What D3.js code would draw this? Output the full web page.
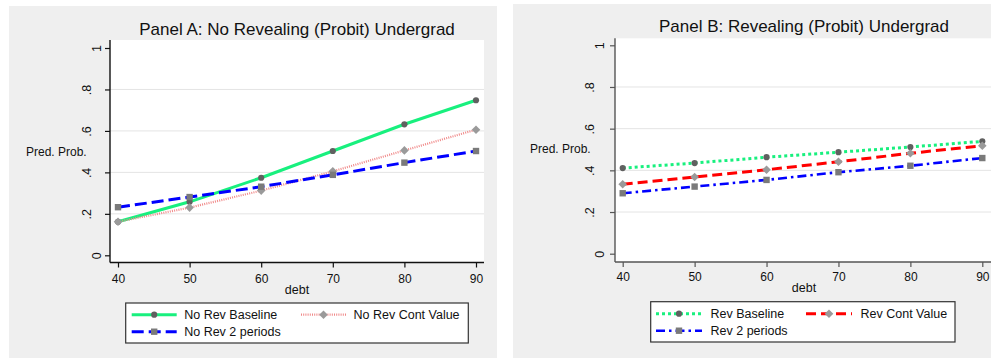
<!DOCTYPE html>
<html>
<head>
<meta charset="utf-8">
<script src="https://cdn.jsdelivr.net/npm/d3@7"></script>
<style>
  html, body { margin: 0; padding: 0; background: #ffffff; }
  svg { display: block; font-family: "Liberation Sans", Arial, sans-serif; }
</style>
</head>
<body>
<svg id="chart" width="991" height="358"></svg>
<script>
// Predicted probabilities by debt level
const debt = [40, 50, 60, 70, 80, 90];
const yTickValues = [0, 0.2, 0.4, 0.6, 0.8, 1];
const yTickLabels = ["0", ".2", ".4", ".6", ".8", "1"];
const yGridValues = [0.2, 0.4, 0.6, 0.8];

// Panel A: no revealing
const noRevBaseline   = [0.162, 0.258, 0.374, 0.503, 0.632, 0.748];
const noRevContValue  = [0.162, 0.230, 0.312, 0.405, 0.506, 0.606];
const noRevTwoPeriods = [0.232, 0.281, 0.331, 0.388, 0.447, 0.503];

// Panel B: revealing
const revBaseline   = [0.411, 0.435, 0.463, 0.487, 0.512, 0.539];
const revContValue  = [0.333, 0.368, 0.403, 0.441, 0.482, 0.518];
const revTwoPeriods = [0.290, 0.322, 0.354, 0.391, 0.422, 0.459];

const svg = d3.select("#chart");

const panels = [
  {
    title: "Panel A: No Revealing (Probit) Undergrad",
    bg: { x: 9, y: 6, w: 488, h: 352 },
    plot: { left: 110, right: 484, top: 40, bottom: 262.5 },
    xr: [118, 476], yr: [255.3, 48],
    axisColor: "#111",
    titleY: 35, xTickY: 282.5, xLabelY: 294, yLabel: { x: 26, y: 155.5 },
    yLabOff: [13, 23],
    legend: { x: 125.7, y: 303, w: 342.6, h: 40, row1: 314.7, row2: 331.7,
              col1: 131.7, col2: 301, sample: 45, gap: 7.5 },
    series: [
      { name: "No Rev Baseline", values: noRevBaseline, color: "#18f07e", width: 3, dash: null, marker: "circle", col: 0, row: 0 },
      { name: "No Rev Cont Value", values: noRevContValue, color: "#f08888", width: 2.2, dash: "1 1.2", marker: "diamond", col: 1, row: 0 },
      { name: "No Rev 2 periods", values: noRevTwoPeriods, color: "#0000ff", width: 3, dash: "12 5", marker: "square", col: 0, row: 1 }
    ]
  },
  {
    title: "Panel B: Revealing (Probit) Undergrad",
    bg: { x: 513, y: 4, w: 478, h: 354 },
    plot: { left: 615, right: 993, top: 38.3, bottom: 262 },
    xr: [622.7, 982.3], yr: [253.7, 45.3],
    axisColor: "#555",
    titleY: 32.3, xTickY: 281, xLabelY: 291.7, yLabel: { x: 530, y: 153 },
    yLabOff: [15, 25],
    legend: { x: 650.7, y: 301.7, w: 304.3, h: 40.3, row1: 313.7, row2: 330.7,
              col1: 656, col2: 806, sample: 46, gap: 8.5 },
    series: [
      { name: "Rev Baseline", values: revBaseline, color: "#18f07e", width: 3, dash: "3 3", marker: "circle", col: 0, row: 0 },
      { name: "Rev Cont Value", values: revContValue, color: "#ff0000", width: 3, dash: "10 5", marker: "diamond", col: 1, row: 0 },
      { name: "Rev 2 periods", values: revTwoPeriods, color: "#0000ff", width: 2.6, dash: "9 4 2.5 4", marker: "square", col: 0, row: 1 }
    ]
  }
];

const markerStyle = {
  circle:  { fill: "#606060", path: d3.symbol(d3.symbolCircle, 30)() },
  diamond: { fill: "#9a9a9a", path: "M0,-4.3L4.3,0L0,4.3L-4.3,0Z" },
  square:  { fill: "#7a7a7a", path: "M-3.2,-3.2H3.2V3.2H-3.2Z" }
};

panels.forEach(p => {
  const g = svg.append("g");

  // panel background
  g.append("rect")
    .attr("x", p.bg.x).attr("y", p.bg.y)
    .attr("width", p.bg.w).attr("height", p.bg.h)
    .attr("fill", "#efefef");

  // plot region
  g.append("rect")
    .attr("x", p.plot.left).attr("y", p.plot.top)
    .attr("width", p.plot.right - p.plot.left)
    .attr("height", p.plot.bottom - p.plot.top)
    .attr("fill", "#ffffff");

  const x = d3.scaleLinear().domain([40, 90]).range(p.xr);
  const y = d3.scaleLinear().domain([0, 1]).range(p.yr);

  // gridlines
  g.append("g").selectAll("line")
    .data(yGridValues)
    .join("line")
    .attr("x1", p.plot.left).attr("x2", p.plot.right)
    .attr("y1", d => y(d)).attr("y2", d => y(d))
    .attr("stroke", "#e4e4e4").attr("stroke-width", 1);

  // title
  g.append("text")
    .attr("x", (p.plot.left + p.plot.right) / 2)
    .attr("y", p.titleY)
    .attr("text-anchor", "middle")
    .attr("font-size", 17)
    .attr("fill", "#111")
    .text(p.title);

  // x axis
  const xAxis = d3.axisBottom(x).tickValues(debt).tickSize(5).tickSizeOuter(0).tickPadding(3);
  const xg = g.append("g")
    .attr("transform", `translate(0,${p.plot.bottom})`)
    .call(xAxis);
  xg.select(".domain").remove();
  xg.selectAll(".tick line").attr("stroke", p.axisColor).attr("stroke-width", 1.2);
  xg.selectAll(".tick text")
    .attr("font-size", 12)
    .attr("font-family", "Liberation Sans, Arial, sans-serif")
    .attr("fill", "#111")
    .attr("dy", null)
    .attr("y", p.xTickY - p.plot.bottom);
  g.append("line")
    .attr("x1", p.plot.left).attr("x2", p.plot.right)
    .attr("y1", p.plot.bottom).attr("y2", p.plot.bottom)
    .attr("stroke", p.axisColor).attr("stroke-width", 1.4);

  g.append("text")
    .attr("x", (p.plot.left + p.plot.right) / 2)
    .attr("y", p.xLabelY)
    .attr("text-anchor", "middle")
    .attr("font-size", 12.5)
    .attr("fill", "#111")
    .text("debt");

  // y axis
  const yAxis = d3.axisLeft(y).tickValues(yTickValues)
    .tickFormat((d, i) => yTickLabels[i]).tickSize(5).tickSizeOuter(0);
  const yg = g.append("g")
    .attr("transform", `translate(${p.plot.left},0)`)
    .call(yAxis);
  yg.select(".domain").remove();
  yg.selectAll(".tick line").attr("stroke", p.axisColor).attr("stroke-width", 1.2);
  yg.selectAll(".tick text")
    .attr("font-size", 12.5)
    .attr("font-family", "Liberation Sans, Arial, sans-serif")
    .attr("fill", "#111")
    .attr("x", null).attr("dy", null)
    .attr("text-anchor", "middle")
    .attr("dominant-baseline", "central")
    .attr("transform", (d, i) => {
      const off = yTickLabels[i].length > 1 ? p.yLabOff[1] : p.yLabOff[0];
      return `translate(${-off},0) rotate(-90)`;
    });
  g.append("line")
    .attr("x1", p.plot.left).attr("x2", p.plot.left)
    .attr("y1", p.plot.top).attr("y2", p.plot.bottom)
    .attr("stroke", p.axisColor).attr("stroke-width", 1.4);

  g.append("text")
    .attr("x", p.yLabel.x).attr("y", p.yLabel.y)
    .attr("font-size", 12)
    .attr("fill", "#111")
    .text("Pred. Prob.");

  // series lines and markers
  const line = d3.line().x((d, i) => x(debt[i])).y(d => y(d));
  p.series.forEach(s => {
    g.append("path")
      .datum(s.values)
      .attr("d", line)
      .attr("fill", "none")
      .attr("stroke", s.color)
      .attr("stroke-width", s.width)
      .attr("stroke-dasharray", s.dash);
  });
  p.series.forEach(s => {
    const m = markerStyle[s.marker];
    g.append("g").selectAll("path")
      .data(s.values)
      .join("path")
      .attr("d", m.path)
      .attr("fill", m.fill)
      .attr("transform", (d, i) => `translate(${x(debt[i])},${y(d)})`);
  });

  // legend
  const L = p.legend;
  g.append("rect")
    .attr("x", L.x).attr("y", L.y)
    .attr("width", L.w).attr("height", L.h)
    .attr("fill", "#ffffff")
    .attr("stroke", "#333").attr("stroke-width", 1.2);
  p.series.forEach(s => {
    const lx = s.col === 0 ? L.col1 : L.col2;
    const ly = s.row === 0 ? L.row1 : L.row2;
    g.append("line")
      .attr("x1", lx).attr("x2", lx + L.sample)
      .attr("y1", ly).attr("y2", ly)
      .attr("stroke", s.color)
      .attr("stroke-width", s.width)
      .attr("stroke-dasharray", s.dash);
    g.append("path")
      .attr("d", markerStyle[s.marker].path)
      .attr("fill", markerStyle[s.marker].fill)
      .attr("transform", `translate(${lx + L.sample / 2},${ly})`);
    g.append("text")
      .attr("x", lx + L.sample + L.gap)
      .attr("y", ly + 4.5)
      .attr("font-size", 12.5)
      .attr("fill", "#111")
      .text(s.name);
  });
});
</script>
</body>
</html>
